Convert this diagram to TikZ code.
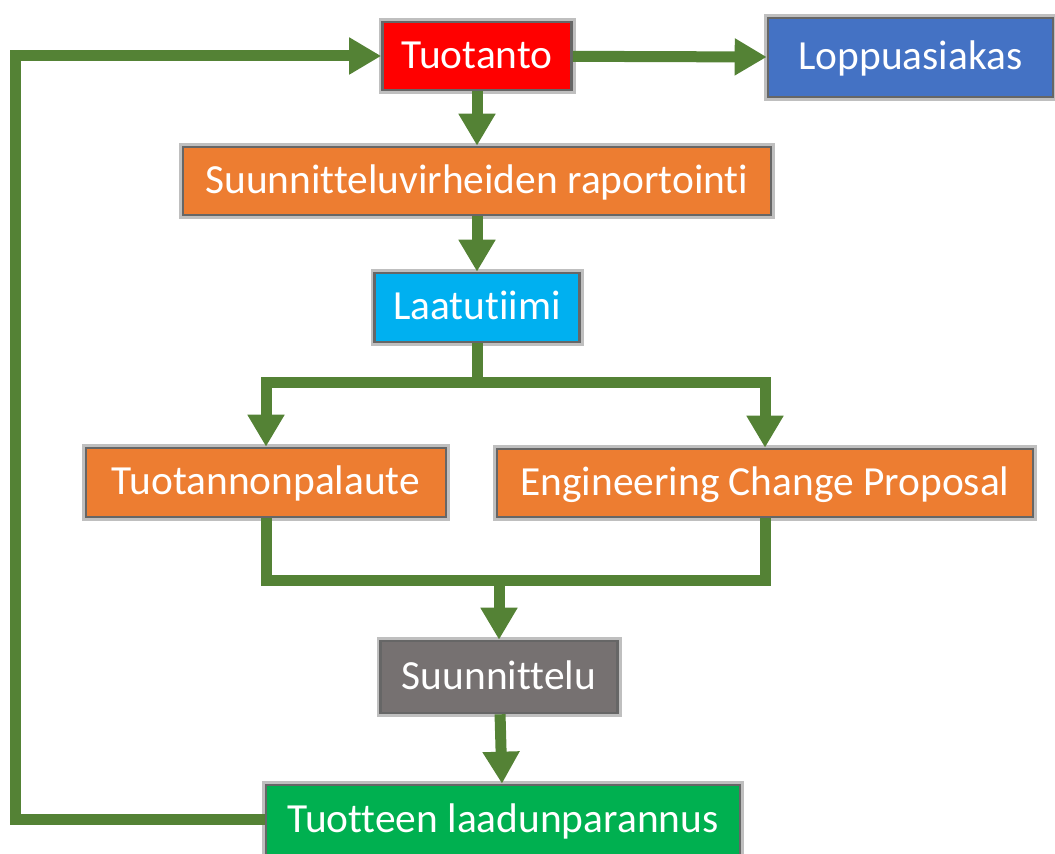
\documentclass[tikz,border=0pt]{standalone}
\usepackage{fontspec}
\setmainfont{Carlito}[Ligatures=CommonOff]
\usepackage{xcolor}
\usetikzlibrary{arrows.meta, positioning}

\definecolor{tuotred}{HTML}{FF0000}
\definecolor{asiakasblue}{HTML}{4472C4}
\definecolor{raporange}{HTML}{ED7D31}
\definecolor{laatucyan}{HTML}{00B0F0}
\definecolor{suungray}{HTML}{767171}
\definecolor{parannusgreen}{HTML}{00B050}
\definecolor{flowgreen}{HTML}{548235}

\begin{document}
\begin{tikzpicture}[x=0.5pt,y=-0.5pt,>={Triangle[width=17.5pt,length=16pt]},
      box/.style={draw=black!60,line width=1.3pt,text=white,inner sep=0pt,
        preaction={draw=black!25,line width=4pt},
        font=\fontsize{20.7}{24}\selectfont,text height=15.5pt,text depth=3.3pt},
      flow/.style={draw=flowgreen,line width=5.5pt}]

    \useasboundingbox (0,0) rectangle (1055,854);

    \node[box,fill=tuotred,minimum width=94.5pt,minimum height=34pt] (tu) at (477,56) {Tuotanto};
    \node[box,fill=asiakasblue,minimum width=142.5pt,minimum height=39.5pt] (lo) at (910.5,57.5) {Loppuasiakas};
    \node[box,fill=raporange,minimum width=294pt,minimum height=34pt] (sv) at (477,181) {Suunnitteluvirheiden raportointi};
    \node[box,fill=laatucyan,minimum width=102.5pt,minimum height=34.5pt] (lt) at (477,307.5) {Laatutiimi};
    \node[box,fill=raporange,minimum width=180pt,minimum height=34.5pt] (tp) at (266,482.5) {Tuotannonpalaute};
    \node[box,fill=raporange,minimum width=268pt,minimum height=34pt] (ecp) at (765,483) {Engineering Change Proposal};
    \node[box,fill=suungray,minimum width=118.5pt,minimum height=36pt] (su) at (499,677) {Suunnittelu};
    \node[box,fill=parannusgreen,minimum width=237pt,minimum height=35pt] (tl) at (503,820) {Tuotteen laadunparannus};

    \coordinate (split) at (477,383);
    \coordinate (join) at (499,581);
    \coordinate (corner) at (15.5,0);

    \path[every edge/.style={flow,->}]
        (tu) edge (lo)
        (tu) edge (sv)
        (sv) edge (lt)
        (join) edge (su)
        (su) edge (tl)
    ;
    \draw[flow,->] (lt) -- (split) -| (tp);
    \draw[flow,->] (split) -| (ecp);
    \draw[flow] (tp) |- (join) -| (ecp);
    \draw[flow,->] (tl) -- (tl -| corner) |- (tu);
\end{tikzpicture}
\end{document}
